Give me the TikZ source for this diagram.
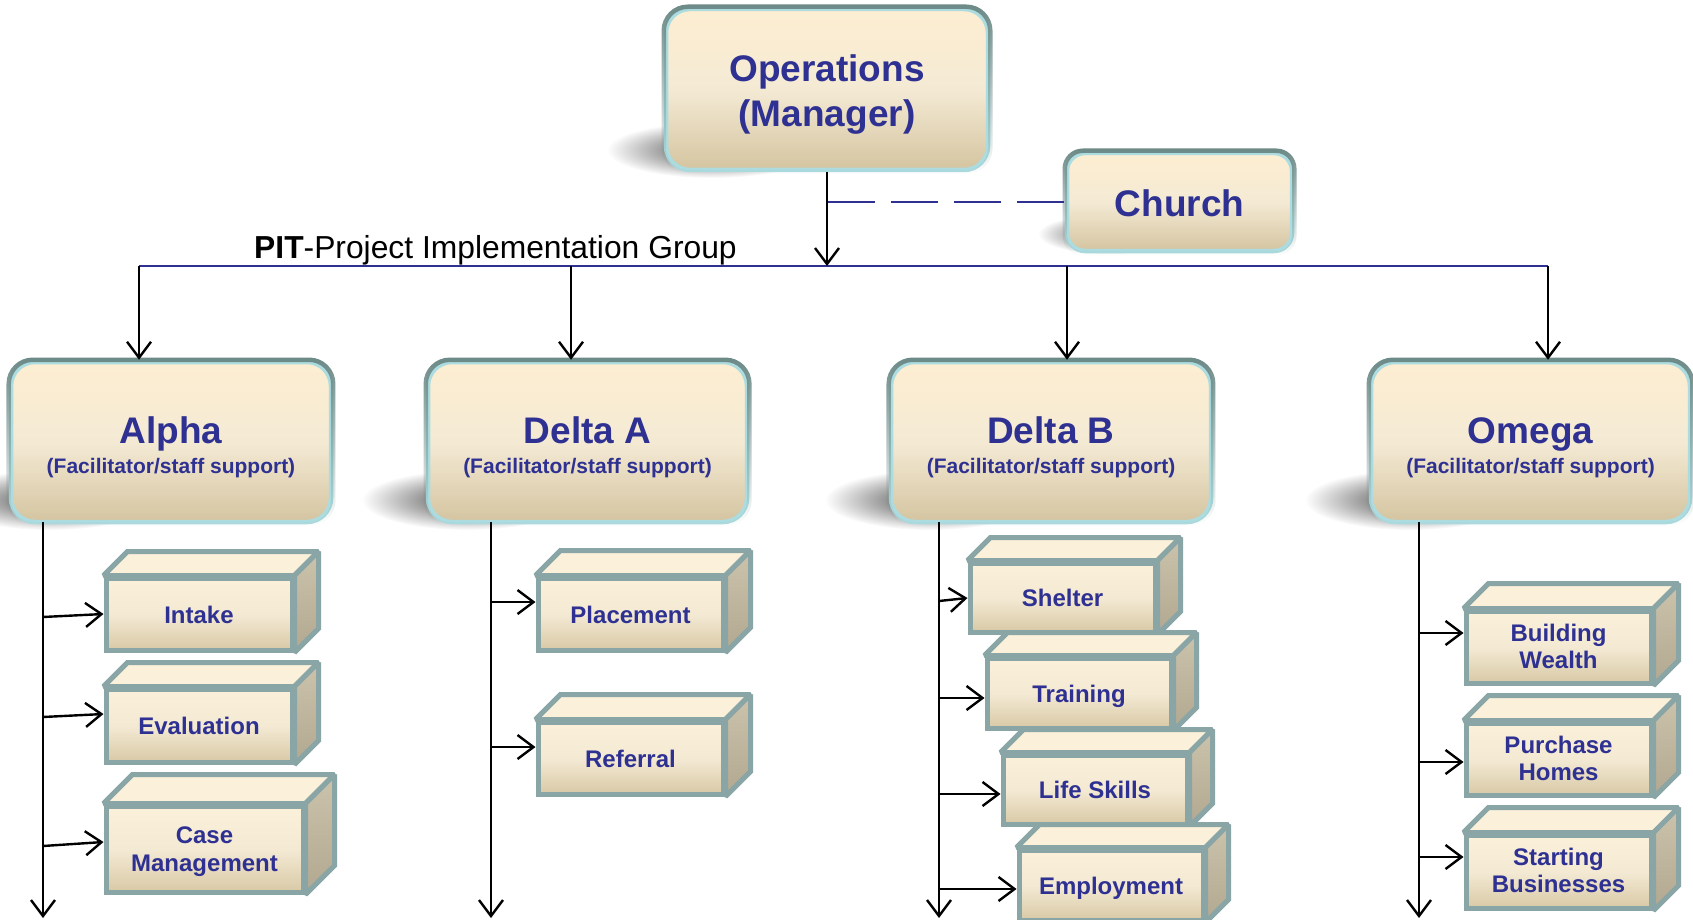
\documentclass[tikz,border=0pt]{standalone}
\usepackage{fontspec}
\setmainfont{Liberation Sans}
\usetikzlibrary{arrows.meta,calc,fadings,shadings}
\definecolor{tblue}{RGB}{46,49,146}
\definecolor{lineblue}{RGB}{46,49,146}
\definecolor{bdark}{RGB}{108,138,135}
\definecolor{blight}{RGB}{172,220,224}
\definecolor{ctop}{RGB}{253,238,210}
\definecolor{cmid}{RGB}{244,234,212}
\definecolor{cbot}{RGB}{212,196,160}
\definecolor{sbord}{RGB}{138,165,165}
\definecolor{stop}{RGB}{251,240,218}
\definecolor{sbot}{RGB}{216,201,166}
\definecolor{sidetop}{RGB}{204,195,172}
\definecolor{sidebot}{RGB}{178,168,144}
\pgfdeclareradialshading{shadsh}{\pgfpointorigin}{color(0bp)=(pgftransparent!0); color(8bp)=(pgftransparent!12); color(25bp)=(pgftransparent!100); color(50bp)=(pgftransparent!100)}
\pgfdeclarefading{softblob}{\pgfuseshading{shadsh}}
\tikzset{
  mainbox/.style={rectangle, draw=blight, line width=4.5pt, top color=ctop, bottom color=cbot, middle color=cmid, inner sep=0pt},
  ttl/.style={font=\fontsize{37}{37}\selectfont\bfseries, text=tblue, anchor=base, inner sep=0pt},
  subttl/.style={font=\fontsize{21}{21}\selectfont\bfseries, text=tblue, anchor=base, inner sep=0pt},
  sublbl/.style={font=\fontsize{24}{24}\selectfont\bfseries, text=tblue, anchor=base, inner sep=0pt},
  front/.style={rectangle, draw=sbord, line width=5pt, top color=stop, bottom color=sbot, middle color=cmid, inner sep=0pt},
  face/.style={draw=sbord, line width=5pt, miter limit=1.3},
  arr/.style={draw=black, line width=2.4pt, -{Straight Barb[length=16pt,width=24pt]}},
  hline/.style={draw=lineblue, line width=2pt},
  dline/.style={draw=lineblue, line width=2pt, dash pattern=on 47pt off 16pt},
  shad/.style={fill=black, opacity=0.55, path fading=softblob},
}
% name, cx, cy, w, h, radius
\newcommand{\mainbx}[6]{%
  \node[mainbox, rounded corners=#6, minimum width=#4, minimum height=#5] (#1) at (#2,#3) {};
  \draw[bdark, line width=4.5pt, rounded corners=#6, path fading=south] (#1.north west) rectangle (#1.south east);
}
% name, cx, cy, w, h, depth
\newcommand{\cubebx}[6]{%
  \node[front, minimum width=#4, minimum height=#5] (#1) at (#2,#3) {};
  \filldraw[face, fill=stop] (#1.north west) -- ++(#6,-#6) -- ($(#1.north east)+(#6,-#6)$) -- (#1.north east) -- cycle;
  \shadedraw[face, top color=sidetop, bottom color=sidebot] (#1.north east) -- ++(#6,-#6) -- ($(#1.south east)+(#6,-#6)$) -- (#1.south east) -- cycle;
}
\begin{document}
\begin{tikzpicture}[x=1pt,y=-1pt]
\useasboundingbox (0,0) rectangle (1693,920);
\fill[white] (0,0) rectangle (1693,920);

% ---------- shadows ----------
\fill[shad] (712,150) ellipse [x radius=105, y radius=28];
\fill[shad] (1110,234) ellipse [x radius=72, y radius=20];
\fill[shad] (50,500) ellipse [x radius=105, y radius=30];
\fill[shad] (467,500) ellipse [x radius=105, y radius=30];
\fill[shad] (930,500) ellipse [x radius=105, y radius=30];
\fill[shad] (1410,500) ellipse [x radius=105, y radius=30];

% ---------- top boxes ----------
\mainbx{ops}{827}{89.5}{322}{161}{24pt}
\node[ttl] (opsT1) at ($(ops.center)+(0,-7.5)$) {Operations};
\node[ttl] (opsT2) at ($(ops.center)+(0,37.5)$) {(Manager)};

\mainbx{church}{1179.5}{202}{225}{98}{18pt}
\node[ttl] (churchT) at ($(church.center)+(0,14)$) {Church};

% ---------- top connectors ----------
\coordinate (hL) at (139,266);
\coordinate (hR) at (1548,266);
\coordinate (hM) at (827,266);
\coordinate (dashS) at (828,202);
\draw[hline] (hL) -- (hR);
\draw[dline] (dashS) -- (church.west);
\draw[arr] (ops.south) -- (hM);
\node[font=\fontsize{31.8}{31.8}\selectfont, anchor=base west, inner sep=0pt] (pit) at (254,258) {\textbf{PIT}-Project Implementation Group};

% ---------- group boxes ----------
\mainbx{alpha}{171}{442}{320}{160}{24pt}
\mainbx{deltaA}{587.5}{442}{319}{160}{24pt}
\mainbx{deltaB}{1051}{442}{320}{160}{24pt}
\mainbx{omega}{1530.5}{442}{319}{160}{24pt}
\foreach \n/\t in {alpha/Alpha, deltaA/Delta A, deltaB/Delta B, omega/Omega}{
  \node[ttl] (\n T) at ($(\n.center)+(0,1)$) {\t};
  \node[subttl] (\n S) at ($(\n.center)+(0,31)$) {(Facilitator/staff support)};
}
\coordinate (dA) at (139,266);
\coordinate (dB) at (571,266);
\coordinate (dC) at (1067,266);
\coordinate (dD) at (1548,266);
\draw[arr] (dA) -- (dA |- alpha.north);
\draw[arr] (dB) -- (dB |- deltaA.north);
\draw[arr] (dC) -- (dC |- deltaB.north);
\draw[arr] (dD) -- (dD |- omega.north);

% ---------- column lines ----------
\coordinate (cA) at (43,522);
\coordinate (cAe) at (43,918);
\coordinate (cB) at (491,522);
\coordinate (cBe) at (491,918);
\coordinate (cC) at (939,522);
\coordinate (cCe) at (939,918);
\coordinate (cD) at (1419,522);
\coordinate (cDe) at (1419,918);
\draw[arr] (cA) -- (cAe);
\draw[arr] (cB) -- (cBe);
\draw[arr] (cC) -- (cCe);
\draw[arr] (cD) -- (cDe);

% ---------- Alpha sub boxes ----------
\cubebx{intake}{199}{614}{186}{72}{24}
\node[sublbl] (intakeT) at ($(intake.center)+(0,9)$) {Intake};
\cubebx{evaluation}{199}{725.5}{186}{73}{24}
\node[sublbl] (evaluationT) at ($(evaluation.center)+(0,9)$) {Evaluation};
\cubebx{casem}{204.5}{849}{197}{86}{29}
\node[sublbl] (casemT1) at ($(casem.center)+(0,-6)$) {Case};
\node[sublbl] (casemT2) at ($(casem.center)+(0,22)$) {Management};
\draw[arr] (43,617) -- (intake.west |- 0,614);
\draw[arr] (43,717) -- (evaluation.west |- 0,714);
\draw[arr] (43,846) -- (casem.west |- 0,842);

% ---------- Delta A sub boxes ----------
\cubebx{placement}{630.5}{614}{185}{72}{25}
\node[sublbl] (placementT) at ($(placement.center)+(0,9)$) {Placement};
\cubebx{referral}{630.5}{758}{185}{72}{25}
\node[sublbl] (referralT) at ($(referral.center)+(0,9)$) {Referral};
\draw[arr] (491,602) -- (placement.west |- 0,602);
\draw[arr] (491,747) -- (referral.west |- 0,747);

% ---------- Delta B sub boxes ----------
\cubebx{shelter}{1062.5}{597.5}{185}{69}{23}
\node[sublbl] (shelterT) at ($(shelter.center)+(0,9)$) {Shelter};
\cubebx{training}{1079}{693}{184}{70}{23}
\node[sublbl] (trainingT) at ($(training.center)+(0,9.5)$) {Training};
\cubebx{lifeskills}{1095}{789.5}{184}{69}{23}
\node[sublbl] (lifeskillsT) at ($(lifeskills.center)+(0,9)$) {Life Skills};
\cubebx{employment}{1111}{885}{184}{70}{23}
\node[sublbl] (employmentT) at ($(employment.center)+(0,9.5)$) {Employment};
\draw[arr] (939,601) -- (shelter.west |- 0,598);
\draw[arr] (939,698) -- (training.west |- 0,698);
\draw[arr] (939,794) -- (lifeskills.west |- 0,794);
\draw[arr] (939,889) -- (employment.west |- 0,889);

% ---------- Omega sub boxes ----------
\cubebx{bwealth}{1558.5}{647}{185}{72}{25}
\node[sublbl] (bwealthT1) at ($(bwealth.center)+(0,-6)$) {Building};
\node[sublbl] (bwealthT2) at ($(bwealth.center)+(0,21)$) {Wealth};
\cubebx{phomes}{1558.5}{759}{185}{72}{25}
\node[sublbl] (phomesT1) at ($(phomes.center)+(0,-6)$) {Purchase};
\node[sublbl] (phomesT2) at ($(phomes.center)+(0,21)$) {Homes};
\cubebx{startb}{1558.5}{871.5}{185}{73}{25}
\node[sublbl] (startbT1) at ($(startb.center)+(0,-6.5)$) {Starting};
\node[sublbl] (startbT2) at ($(startb.center)+(0,20.5)$) {Businesses};
\draw[arr] (1419,633) -- (bwealth.west |- 0,633);
\draw[arr] (1419,762) -- (phomes.west |- 0,762);
\draw[arr] (1419,857) -- (startb.west |- 0,857);
\end{tikzpicture}
\end{document}
